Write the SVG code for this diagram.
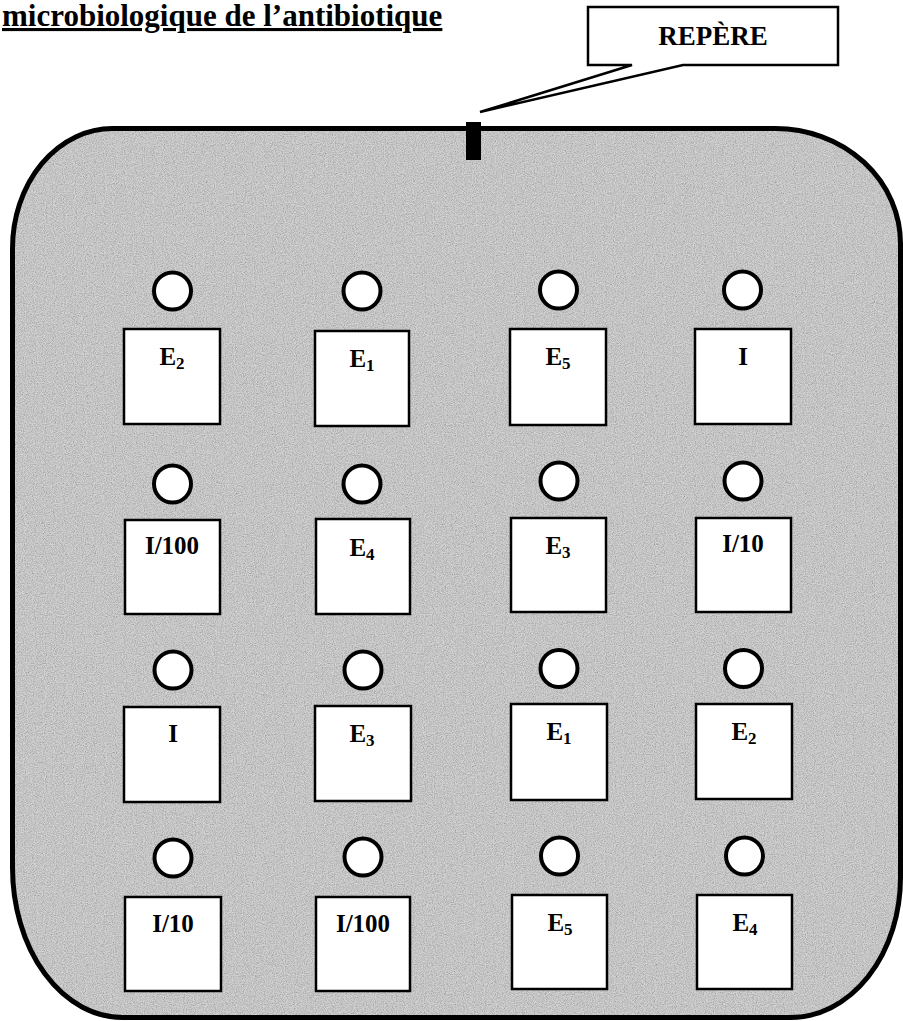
<svg xmlns="http://www.w3.org/2000/svg" width="903" height="1021" viewBox="0 0 903 1021">
<style>
  .title{font-family:"Liberation Serif","Times New Roman",serif;font-weight:bold;font-size:31px;fill:#000;text-decoration:underline;}
  .lbl{font-family:"Liberation Serif","Times New Roman",serif;font-weight:bold;font-size:25px;fill:#000;text-anchor:middle;}
  .sub{font-size:17px;}
  .well{fill:#fff;stroke:#000;stroke-width:4;}
  .box{fill:#fff;stroke:#000;stroke-width:2.5;}
  .plate{fill:#d2d2d2;stroke:none;}
  .plateEdge{fill:none;stroke:#000;stroke-width:5;}
</style>
<defs>
  <clipPath id="plateClip">
    <path d="M112.5,128.5 H775.5 A125,115 0 0 1 900.5,243.5 V877.5 A110,140 0 0 1 790.5,1017.5 H122.5 A110,150 0 0 1 12.5,867.5 V248.5 A100,120 0 0 1 112.5,128.5 Z"/>
  </clipPath>
  <filter id="grain" x="0" y="0" width="100%" height="100%" filterUnits="userSpaceOnUse">
    <feTurbulence type="fractalNoise" baseFrequency="0.9" numOctaves="2" seed="7"/>
    <feColorMatrix type="matrix" values="0 0 0 0 0  0 0 0 0 0  0 0 0 0 0  0.6 0.6 0.6 0 -0.75"/>
  </filter>
</defs>

<text class="title" x="2" y="26">microbiologique de l’antibiotique</text>

<g id="plate">
  <path class="plate" d="M112.5,128.5 H775.5 A125,115 0 0 1 900.5,243.5 V877.5 A110,140 0 0 1 790.5,1017.5 H122.5 A110,150 0 0 1 12.5,867.5 V248.5 A100,120 0 0 1 112.5,128.5 Z"/>
  <rect x="0" y="120" width="903" height="901" fill="#000" filter="url(#grain)" clip-path="url(#plateClip)" opacity="0.45"/>
  <path class="plateEdge" d="M112.5,128.5 H775.5 A125,115 0 0 1 900.5,243.5 V877.5 A110,140 0 0 1 790.5,1017.5 H122.5 A110,150 0 0 1 12.5,867.5 V248.5 A100,120 0 0 1 112.5,128.5 Z"/>
</g>

<g id="repere-mark">
  <rect x="466" y="122" width="15" height="38" fill="#000"/>
</g>

<g id="repere-callout">
  <path d="M588,7 H838 V65 H683 L480,112 L632,65 H588 Z" fill="#fff" stroke="#000" stroke-width="2.5" stroke-linejoin="miter"/>
  <text class="lbl" x="713" y="45" style="font-size:27px">REPÈRE</text>
</g>

<g id="connectors"></g>

<!-- Row 1 -->
<g id="r1c1"><circle class="well" cx="172.5" cy="291" r="18.5"/><rect class="box" x="124" y="329" width="96" height="95"/><text class="lbl" x="172" y="365">E<tspan class="sub" dy="4">2</tspan></text></g>
<g id="r1c2"><circle class="well" cx="362" cy="291" r="18.5"/><rect class="box" x="315" y="331" width="94" height="95"/><text class="lbl" x="362" y="367">E<tspan class="sub" dy="4">1</tspan></text></g>
<g id="r1c3"><circle class="well" cx="558.5" cy="290" r="18.5"/><rect class="box" x="510" y="329" width="96" height="96"/><text class="lbl" x="558" y="365">E<tspan class="sub" dy="4">5</tspan></text></g>
<g id="r1c4"><circle class="well" cx="742.5" cy="290" r="18.5"/><rect class="box" x="695" y="329" width="96" height="95"/><text class="lbl" x="743" y="365">I</text></g>

<!-- Row 2 -->
<g id="r2c1"><circle class="well" cx="172.5" cy="484" r="18.5"/><rect class="box" x="125" y="520" width="95" height="94"/><text class="lbl" x="172" y="554">I/100</text></g>
<g id="r2c2"><circle class="well" cx="362" cy="484" r="18.5"/><rect class="box" x="316" y="519" width="94" height="95"/><text class="lbl" x="362" y="556">E<tspan class="sub" dy="4">4</tspan></text></g>
<g id="r2c3"><circle class="well" cx="559" cy="481" r="18.5"/><rect class="box" x="511" y="518" width="95" height="94"/><text class="lbl" x="558" y="554">E<tspan class="sub" dy="4">3</tspan></text></g>
<g id="r2c4"><circle class="well" cx="743" cy="481" r="18.5"/><rect class="box" x="696" y="518" width="95" height="94"/><text class="lbl" x="743" y="552">I/10</text></g>

<!-- Row 3 -->
<g id="r3c1"><circle class="well" cx="173" cy="670" r="18.5"/><rect class="box" x="124" y="707" width="96" height="95"/><text class="lbl" x="173" y="742">I</text></g>
<g id="r3c2"><circle class="well" cx="363" cy="670" r="18.5"/><rect class="box" x="315" y="706" width="96" height="95"/><text class="lbl" x="362" y="742">E<tspan class="sub" dy="4">3</tspan></text></g>
<g id="r3c3"><circle class="well" cx="559" cy="668.5" r="18.5"/><rect class="box" x="511" y="704" width="96" height="96"/><text class="lbl" x="559" y="740">E<tspan class="sub" dy="4">1</tspan></text></g>
<g id="r3c4"><circle class="well" cx="743.5" cy="668.5" r="18.5"/><rect class="box" x="696" y="704" width="96" height="95"/><text class="lbl" x="744" y="740">E<tspan class="sub" dy="4">2</tspan></text></g>

<!-- Row 4 -->
<g id="r4c1"><circle class="well" cx="173" cy="858" r="18.5"/><rect class="box" x="125" y="897" width="96" height="94"/><text class="lbl" x="173" y="932">I/10</text></g>
<g id="r4c2"><circle class="well" cx="363" cy="857" r="18.5"/><rect class="box" x="316" y="897" width="94" height="94"/><text class="lbl" x="363" y="932">I/100</text></g>
<g id="r4c3"><circle class="well" cx="559.5" cy="856" r="18.5"/><rect class="box" x="512" y="895" width="95" height="94"/><text class="lbl" x="560" y="931">E<tspan class="sub" dy="4">5</tspan></text></g>
<g id="r4c4"><circle class="well" cx="744.5" cy="856" r="18.5"/><rect class="box" x="697" y="895" width="95" height="94"/><text class="lbl" x="745" y="931">E<tspan class="sub" dy="4">4</tspan></text></g>
</svg>
